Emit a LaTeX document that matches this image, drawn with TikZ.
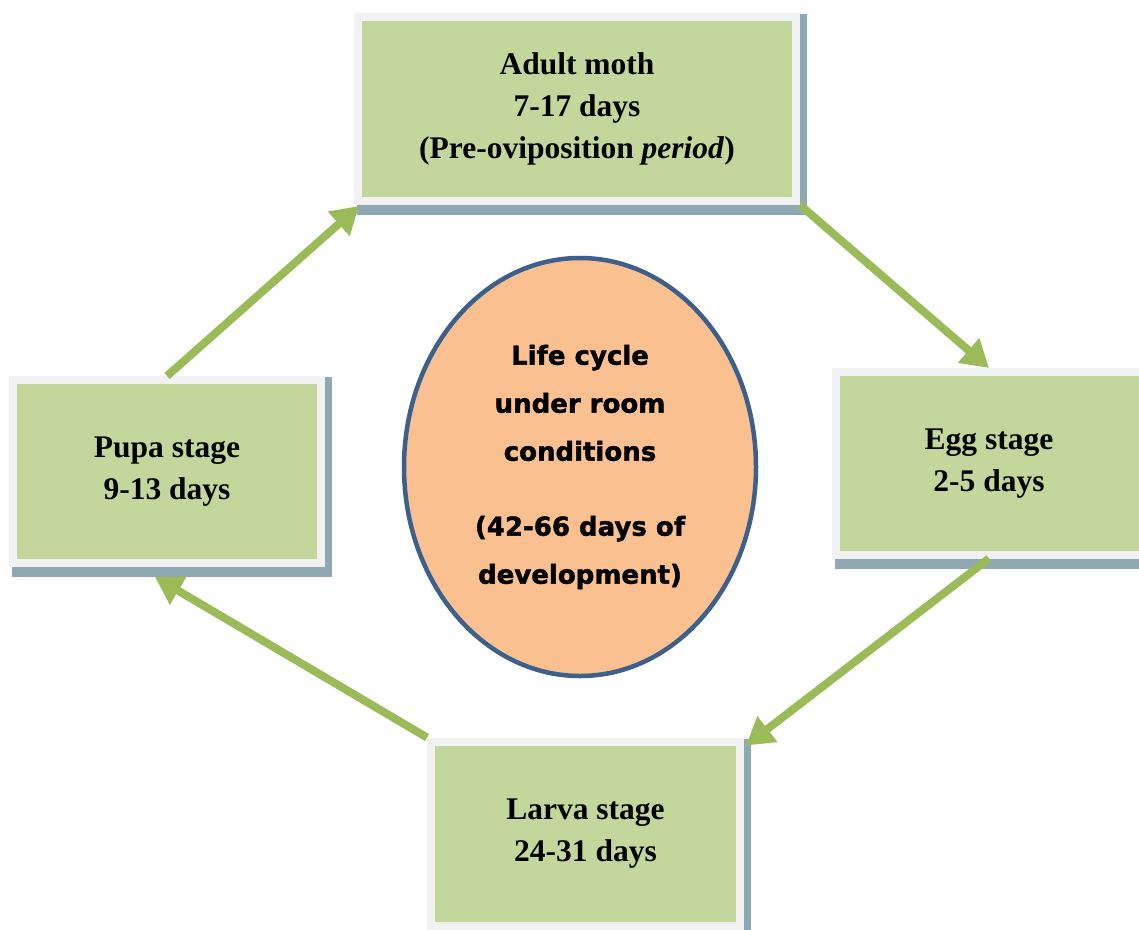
\documentclass[tikz,border=0pt]{standalone}
\usepackage{fontspec}
\setmainfont{Liberation Serif}
\newfontfamily\ellfont{DejaVu Sans}[BoldFeatures={FakeBold=1.6}]
\usetikzlibrary{shapes.geometric,arrows.meta,calc}
\definecolor{boxgreen}{HTML}{C3D69B}
\definecolor{boxborder}{HTML}{F2F2F2}
\definecolor{shadowc}{RGB}{142,169,179}
\definecolor{arrowgreen}{HTML}{9BBB59}
\definecolor{ellfill}{HTML}{FAC090}
\definecolor{elldraw}{RGB}{60,95,140}
\pgfdeclarelayer{bg}
\pgfsetlayers{bg,main}
\tikzset{
  stagebox/.style={rectangle, fill=boxgreen, draw=boxborder, line width=8pt, inner sep=0pt,
    align=center, font=\fontsize{31.5}{42}\selectfont\bfseries},
  cyclearrow/.style={draw=arrowgreen, line width=8pt, -{Triangle[length=27pt,width=31pt]}},
}
\begin{document}
\begin{tikzpicture}[x=1pt,y=-1pt]
\clip (0,0) rectangle (1139,929);
\node[stagebox, minimum width=438pt, minimum height=184pt] (adult) at (577,109)
  {Adult moth\\7-17 days\\(Pre-oviposition \textit{period})};
\node[stagebox, minimum width=308pt, minimum height=183pt] (pupa) at (167,471.5)
  {Pupa stage\\9-13 days};
\node[stagebox, minimum width=307pt, minimum height=182.5pt] (egg) at (989,463.25)
  {Egg stage\\2-5 days};
\node[stagebox, minimum width=309pt, minimum height=184.5pt] (larva) at (585.5,833.75)
  {Larva stage\\24-31 days};
\node[ellipse, draw=elldraw, fill=ellfill, line width=4.5pt, minimum width=352pt, minimum height=418pt,
  inner sep=0pt, align=center, font=\ellfont\bfseries\fontsize{26}{48}\selectfont] (cycle) at (580,467)
  {Life cycle\\under room\\conditions\\[27pt](42-66 days of\\development)};
\begin{pgfonlayer}{bg}
\fill[white] (0,0) rectangle (1139,929);
\foreach \n in {adult,pupa,egg,larva}
  \fill[shadowc] ($(\n.north west)+(3,1)$) rectangle ($(\n.south east)+(7,10)$);
\end{pgfonlayer}
\coordinate (adultin) at ($(adult.south west)+(5,1)$);
\coordinate (larvain) at ($(larva.north east)+(2,8)$);
\coordinate (pupain) at ($(pupa.south)+(-12,10)$);
\draw[cyclearrow] (pupa.north) -- (adultin);
\draw[cyclearrow] (adult.south east) -- (egg.north);
\draw[cyclearrow] (egg.south) -- (larvain);
\draw[cyclearrow] (larva.north west) -- (pupain);
\end{tikzpicture}
\end{document}
